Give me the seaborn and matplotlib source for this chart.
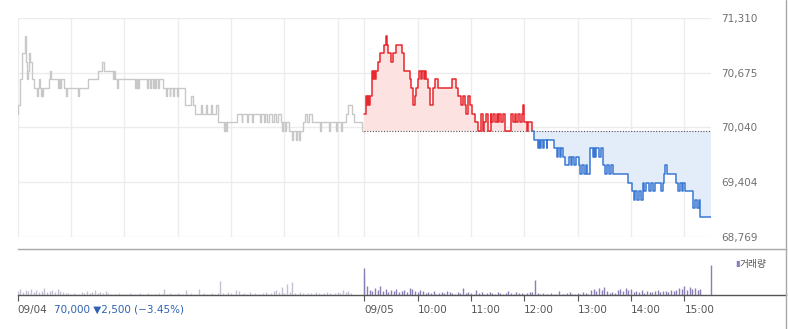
import numpy as np
import pandas as pd
import matplotlib
matplotlib.use("Agg")
import matplotlib.pyplot as plt
import seaborn as sns
from matplotlib.lines import Line2D

# ---------------- data ----------------
day_labels = ["09/04", "09/05"]
hour_labels = ["10:00", "11:00", "12:00", "13:00", "14:00", "15:00"]
prev_close = 70000
d1_close, d1_change, d1_pct = 70000, -2500, -3.45
y_ticks = [68769, 69404, 70040, 70675, 71310]
vol_label = "거래량"

# day 1 (09/04): minutes since 09:00 where price changes, and price
d1_minute = [0, 1, 3, 5, 8, 9, 10, 11, 12, 13,
             14, 16, 18, 22, 23, 24, 25, 26, 27, 28,
             29, 35, 36, 38, 46, 47, 48, 49, 52, 55,
             56, 68, 69, 79, 90, 95, 97, 107, 109, 110,
             112, 113, 132, 133, 134, 135, 136, 137, 146, 147,
             149, 150, 152, 153, 155, 156, 158, 159, 164, 167,
             168, 171, 172, 175, 176, 179, 180, 188, 195, 197,
             200, 206, 207, 212, 213, 218, 219, 223, 225, 232,
             233, 235, 236, 247, 252, 253, 258, 259, 264, 265,
             273, 274, 277, 278, 281, 283, 286, 288, 291, 293,
             296, 298, 299, 301, 302, 305, 309, 310, 313, 314,
             317, 318, 321, 323, 326, 328, 331, 340, 341, 350,
             351, 358, 359, 364, 365, 370, 372, 376, 378, 387,
             390]
d1_price = [70200, 70300, 70600, 70900, 71100, 71000, 70800, 70600, 70700, 70900,
            70800, 70600, 70500, 70400, 70500, 70600, 70500, 70400, 70500, 70400,
            70500, 70600, 70700, 70600, 70500, 70600, 70500, 70600, 70500, 70400,
            70500, 70400, 70500, 70600, 70700, 70800, 70700, 70600, 70700, 70600,
            70500, 70600, 70500, 70600, 70500, 70600, 70500, 70600, 70500, 70600,
            70500, 70600, 70500, 70600, 70500, 70600, 70500, 70600, 70500, 70400,
            70500, 70400, 70500, 70400, 70500, 70400, 70500, 70300, 70400, 70300,
            70200, 70300, 70200, 70300, 70200, 70300, 70200, 70300, 70100, 70000,
            70100, 70000, 70100, 70200, 70100, 70200, 70100, 70200, 70100, 70200,
            70100, 70200, 70100, 70200, 70100, 70200, 70100, 70200, 70100, 70200,
            70100, 70000, 70100, 70000, 70100, 70000, 69900, 70000, 69900, 70000,
            69900, 70000, 70100, 70200, 70100, 70200, 70100, 70000, 70100, 70000,
            70100, 70000, 70100, 70000, 70100, 70200, 70300, 70200, 70100, 70000,
            70000]

# day 2 (09/05)
d2_minute = [0, 2, 3, 4, 5, 6, 9, 10, 11, 12,
             13, 15, 18, 22, 24, 26, 27, 30, 32, 36,
             42, 45, 52, 53, 55, 57, 58, 61, 62, 64,
             65, 67, 68, 70, 72, 74, 77, 80, 83, 99,
             103, 106, 109, 111, 113, 115, 117, 119, 121, 125,
             128, 131, 133, 135, 137, 139, 142, 143, 145, 147,
             149, 150, 152, 154, 156, 158, 165, 167, 169, 171,
             173, 175, 177, 179, 180, 183, 184, 189, 191, 195,
             196, 198, 199, 201, 202, 205, 206, 213, 217, 218,
             220, 221, 223, 226, 230, 232, 234, 236, 238, 241,
             243, 245, 247, 249, 251, 254, 257, 258, 260, 261,
             264, 266, 268, 271, 273, 275, 277, 280, 297, 301,
             303, 305, 307, 309, 311, 313, 315, 317, 320, 322,
             325, 327, 334, 336, 337, 338, 340, 351, 353, 355,
             357, 359, 361, 370, 372, 374, 376, 378, 390]
d2_price = [70200, 70400, 70300, 70400, 70300, 70400, 70700, 70600, 70700, 70600,
            70700, 70800, 70900, 71000, 71100, 71000, 70900, 70800, 70900, 71000,
            70900, 70700, 70600, 70500, 70300, 70400, 70500, 70600, 70700, 70600,
            70700, 70600, 70700, 70600, 70500, 70300, 70500, 70600, 70500, 70600,
            70500, 70400, 70300, 70400, 70300, 70200, 70400, 70300, 70200, 70100,
            70000, 70200, 70000, 70100, 70200, 70000, 70200, 70100, 70200, 70100,
            70200, 70100, 70200, 70100, 70200, 70000, 70200, 70100, 70200, 70100,
            70200, 70100, 70200, 70300, 70100, 70000, 70100, 70000, 69900, 69800,
            69900, 69800, 69900, 69800, 69900, 69800, 69900, 69800, 69700, 69800,
            69700, 69800, 69700, 69600, 69700, 69600, 69700, 69600, 69700, 69600,
            69500, 69600, 69500, 69600, 69500, 69800, 69700, 69800, 69700, 69800,
            69700, 69800, 69600, 69500, 69600, 69500, 69600, 69500, 69400, 69300,
            69200, 69300, 69200, 69300, 69200, 69400, 69300, 69400, 69300, 69400,
            69300, 69400, 69300, 69400, 69500, 69600, 69500, 69400, 69300, 69400,
            69300, 69400, 69300, 69100, 69200, 69100, 69200, 69000, 69000]

# volume, 3-minute buckets 09:00 .. 15:30 (last = closing auction)
vol_d1 = [4, 6, 3, 5, 4, 6, 3, 5, 3, 4,
          7, 3, 4, 5, 3, 6, 4, 3, 2, 2,
          1, 2, 1, 1, 3, 2, 4, 2, 3, 5,
          2, 3, 2, 4, 2, 1, 1, 1, 2, 1,
          1, 1, 2, 1, 1, 1, 2, 1, 1, 2,
          1, 1, 1, 2, 1, 6, 1, 2, 1, 1,
          2, 1, 1, 5, 1, 2, 1, 1, 6, 1,
          2, 1, 1, 2, 1, 2, 14, 2, 1, 3,
          2, 1, 5, 4, 1, 2, 1, 3, 1, 2,
          1, 1, 2, 3, 1, 2, 4, 5, 3, 8,
          2, 11, 3, 13, 2, 1, 3, 2, 1, 2,
          2, 1, 3, 2, 1, 2, 3, 2, 1, 2,
          3, 2, 5, 3, 4, 2, 0, 0, 0, 0,
          20]
vol_d2 = [27, 9, 5, 4, 7, 5, 9, 4, 6, 3,
          5, 4, 6, 3, 4, 5, 3, 7, 6, 4,
          3, 5, 4, 2, 3, 2, 4, 1, 2, 3,
          2, 4, 3, 2, 1, 3, 2, 7, 2, 3,
          2, 1, 5, 2, 3, 1, 2, 3, 2, 1,
          3, 2, 1, 2, 4, 2, 1, 3, 2, 2,
          1, 2, 3, 3, 15, 2, 1, 2, 1, 1,
          2, 1, 1, 4, 1, 1, 2, 3, 1, 1,
          2, 1, 3, 2, 1, 5, 6, 4, 7, 5,
          8, 4, 2, 3, 2, 5, 6, 4, 7, 5,
          6, 3, 4, 3, 5, 2, 4, 3, 3, 4,
          5, 3, 4, 4, 3, 5, 4, 5, 7, 6,
          9, 5, 8, 6, 7, 5, 6, 0, 0, 0,
          30]

# ---------------- layout ----------------
W, H = 788, 329
session = 390
bucket = 3
total = 2 * session

sns.set_theme(style="white")
plt.rcParams["font.family"] = ["DejaVu Sans", "Noto Sans CJK KR"]

fig = plt.figure(figsize=(W / 100, H / 100), dpi=100)
fig.patch.set_facecolor("white")

x_left, x_right = 17.5, 711.0
y_top, y_bot = 18.0, 237.0
ax = fig.add_axes([x_left / W, 1 - y_bot / H, (x_right - x_left) / W, (y_bot - y_top) / H])
v_right, v_top, v_bot = 786.0, 248.5, 295.0
axv = fig.add_axes([x_left / W, 1 - v_bot / H, (v_right - x_left) / W, (v_bot - v_top) / H])

# ---------------- price panel ----------------
grid_c = "#ececec"
for yt in y_ticks:
    ax.axhline(yt, color=grid_c, lw=1, zorder=0)
hour_marks = [h * 60 for h in range(0, 7)] + [session + h * 60 for h in range(0, 7)]
for xm in hour_marks:
    ax.axvline(xm, color=grid_c, lw=1, zorder=0)

df1 = pd.DataFrame({"t": d1_minute, "price": d1_price})
df2 = pd.DataFrame({"t": np.array(d2_minute) + session, "price": d2_price})

sns.lineplot(data=df1, x="t", y="price", ax=ax, color="#c8c8c8", lw=1.0,
             drawstyle="steps-post", errorbar=None)

below = np.where(df2["price"].values < prev_close)[0][0]
up = df2.iloc[:below]
dn = df2.iloc[below - 1:]

ax.fill_between(up["t"], up["price"], prev_close, step="post", color="#fde2e2", lw=0, zorder=1)
ax.fill_between(dn["t"], dn["price"], prev_close, step="post", color="#e3edf9", lw=0, zorder=1)
ax.hlines(prev_close, session, total, colors="#555555", linestyles=(0, (1, 1.5)), lw=0.8, zorder=2)
sns.lineplot(data=up, x="t", y="price", ax=ax, color="#e8282e", lw=1.1,
             drawstyle="steps-post", errorbar=None, zorder=3)
sns.lineplot(data=dn, x="t", y="price", ax=ax, color="#3a78d4", lw=1.1,
             drawstyle="steps-post", errorbar=None, zorder=3)

ax.set_xlim(0, total)
ax.set_ylim(y_ticks[0], y_ticks[-1])
ax.set_xticks([])
ax.yaxis.tick_right()
ax.set_yticks(y_ticks)
ax.set_yticklabels([f"{v:,}" for v in y_ticks], fontsize=7.5, color="#707070")
ax.tick_params(axis="y", length=0, pad=7.5)
ax.set_xlabel("")
ax.set_ylabel("")
for s in ax.spines.values():
    s.set_visible(False)
ax.patch.set_alpha(0)

# ---------------- volume panel ----------------
vt = np.arange(0, session + 1, bucket)
axv.vlines(vt, 0, vol_d1, colors="#c4c0d4", lw=1.0)
axv.vlines(vt + session, 0, vol_d2, colors="#8a7eb6", lw=1.0)
axv.set_xlim(0, total * (v_right - x_left) / (x_right - x_left))
axv.set_ylim(0, max(max(vol_d1), max(vol_d2)) * 1.55)
axv.set_yticks([])
ticks = [0, session] + [session + h * 60 for h in range(1, 7)]
axv.set_xticks(ticks)
axv.set_xticklabels(day_labels + hour_labels, fontsize=7.5, color="#555555")
for lbl in axv.get_xticklabels():
    lbl.set_horizontalalignment("left")
axv.tick_params(axis="x", direction="out", length=4, width=0.8, color="#555555", pad=3,
                bottom=True)
for k in ["left", "right"]:
    axv.spines[k].set_visible(False)
axv.spines["top"].set_color("#a8a8a8")
axv.spines["top"].set_linewidth(1.0)
axv.spines["bottom"].set_color("#555555")
axv.spines["bottom"].set_linewidth(1.0)
axv.patch.set_alpha(0)

# legend
fig.text(735 / W, 1 - 263.5 / H, "▮", fontsize=6, color="#8a7eb6", ha="left", va="center")
fig.text(740 / W, 1 - 263.5 / H, vol_label, fontsize=7, color="#555555", ha="left", va="center",
         family=["Noto Sans CJK KR", "DejaVu Sans"])

# previous day summary
summary = f"{d1_close:,} ▼{abs(d1_change):,} ({d1_pct:.2f}%)".replace("-", "−")
fig.text(54 / W, 1 - 309 / H, summary, fontsize=7.5, color="#2f62b3", ha="left", va="center")

# right border
fig.add_artist(Line2D([786 / W, 786 / W], [0, 1], color="#a8a8a8", lw=1.0))

fig.savefig("out.png", dpi=100, facecolor="white")
